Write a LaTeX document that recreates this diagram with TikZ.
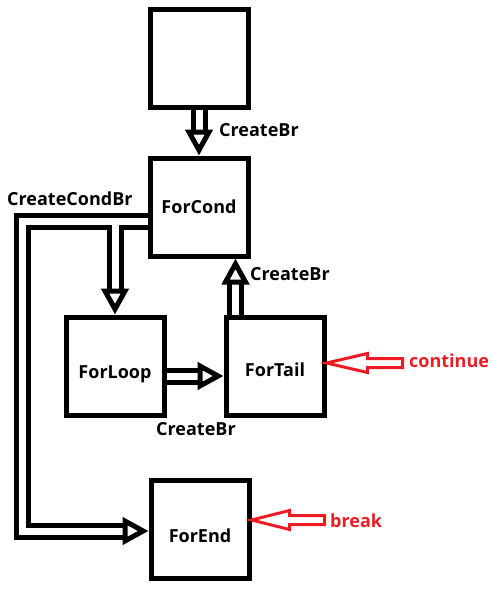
\documentclass[tikz,border=0pt]{standalone}
\usepackage{fontspec}
\setmainfont{Open Sans}
\usetikzlibrary{arrows.meta,calc}
\definecolor{paintred}{RGB}{237,28,36}
\tikzset{
  blok/.style={draw,line width=5pt,minimum width=98pt,minimum height=98pt,inner sep=0pt,font=\bfseries\fontsize{18}{22}\selectfont},
  laag/.style={text depth=0pt,text height=#1},
  tekst/.style={inner sep=0pt,anchor=west,font=\bfseries\fontsize{18}{22}\selectfont},
  dubbel/.style={double,double distance=7pt,line width=5pt,-{Triangle[open,length=26pt,width=27pt]}},
  rood/.style={draw=paintred,line width=3pt,line join=miter}
}
\begin{document}
\begin{tikzpicture}[x=1pt,y=-1pt]
\useasboundingbox (0,0) rectangle (499,589);
% Blokken
\node[blok] (start) at (199,58) {};
\node[blok] (forcond) at (199,207) {ForCond};
\node[blok,laag=25pt] (forloop) at (115,366) {ForLoop};
\node[blok,laag=21pt] (fortail) at (275,366) {ForTail};
\node[blok,laag=26pt] (forend) at (200,529) {ForEnd};

% Hulppunten
\coordinate (condstart) at ($(forcond.west)+(0,14)$);
\coordinate (hoek) at (22,531);
\coordinate (lussplit) at ($(forloop.north |- condstart)+(0,3.5)$);
\coordinate (staartA) at ($(forloop.east)+(0,10)$);
\coordinate (staartB) at ($(fortail.north west)+(12,0)$);

% Pijlen
\draw[dubbel] (start.south) -- (forcond.north);
\draw[dubbel] (condstart) -| (hoek) -- (forend.west |- hoek);
\draw[dubbel] (lussplit) -- (forloop.north);
\draw[dubbel] (staartA) -- (fortail.west |- staartA);
\draw[dubbel] (staartB) -- (staartB |- forcond.south);

% Rode pijlen
\draw[rood] ($(fortail.east)+(0,-3)$) -- ++(41,-9.5) -- ++(0,5) -- ++(35,0) -- ++(0,9) -- ++(-35,0) -- ++(0,5) -- cycle;
\draw[rood] ($(forend.east)+(0,-9)$) -- ++(38,-9.5) -- ++(0,5) -- ++(35,0) -- ++(0,9) -- ++(-35,0) -- ++(0,5) -- cycle;

% Labels
\node[tekst] (lbltop) at (219,130) {CreateBr};
\node[tekst] (lblcond) at (7,199) {CreateCondBr};
\node[tekst] (lbltail) at (250,274) {CreateBr};
\node[tekst] (lblloop) at (156,429) {CreateBr};
\node[tekst,text=paintred] (lblcont) at (409,361) {continue};
\node[tekst,text=paintred] (lblbreak) at (330,521) {break};
\end{tikzpicture}
\end{document}
